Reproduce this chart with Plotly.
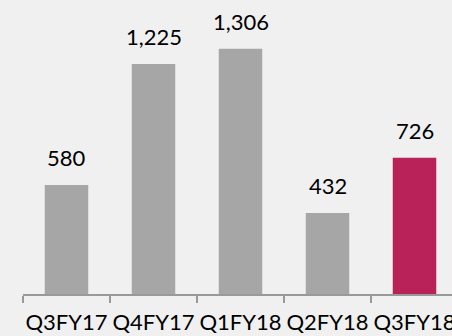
import plotly.graph_objects as go

categories = ["Q3FY17", "Q4FY17", "Q1FY18", "Q2FY18", "Q3FY18"]
values = [580, 1225, 1306, 432, 726]
labels = ["580", "1,225", "1,306", "432", "726"]
colors = ["#a6a6a6", "#a6a6a6", "#a6a6a6", "#a6a6a6", "#b92258"]

fig = go.Figure(go.Bar(x=categories, y=values, marker=dict(color=colors, line=dict(width=0)),
                       width=0.5, hoverinfo="skip"))

for c, v, t in zip(categories, values, labels):
    fig.add_annotation(x=c, y=v, text=t, showarrow=False, yanchor="bottom", yshift=12,
                       font=dict(family="Lato", size=22, color="#000000"))

fig.update_layout(
    width=452, height=336,
    margin=dict(l=23, r=0, t=0, b=42),
    paper_bgcolor="#f0f0f0", plot_bgcolor="#f0f0f0",
    showlegend=False,
    xaxis=dict(type="category", range=[-0.5, 4.5 - 6/87], showline=True, linecolor="#999999",
               linewidth=1.5, ticks="outside", tickson="boundaries", ticklen=7, tickcolor="#999999",
               tickwidth=1.5, showgrid=False, zeroline=False, tickangle=0, automargin=False,
               ticklabelstandoff=8,
               tickfont=dict(family="Lato", size=22, color="#000000")),
    yaxis=dict(range=[0, 1566], visible=False, showgrid=False, zeroline=False, automargin=False),
)

fig.write_html("out.html")
